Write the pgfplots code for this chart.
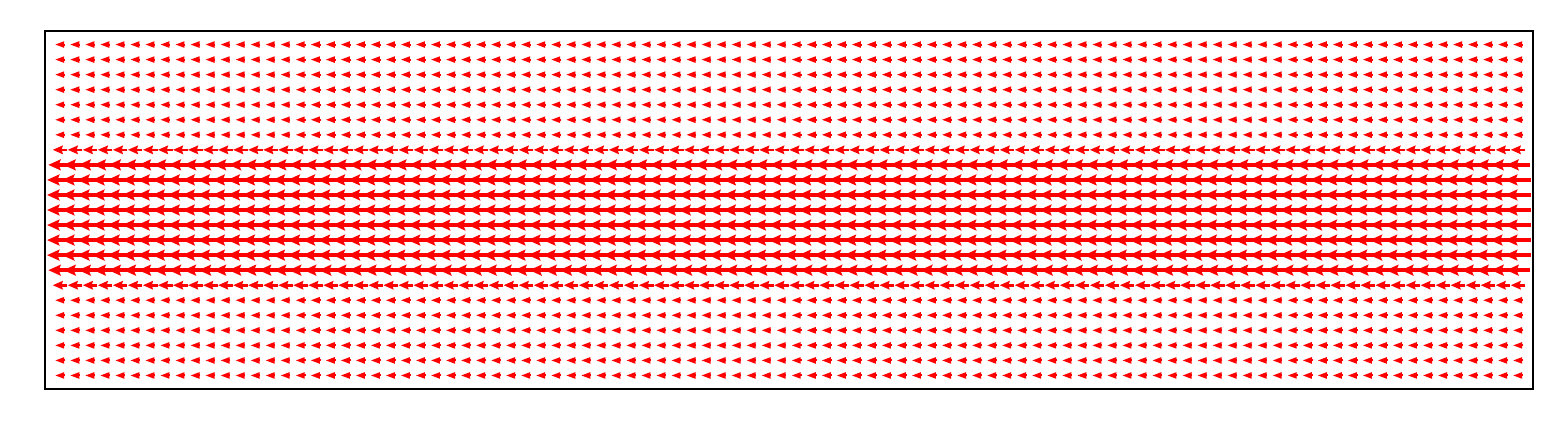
\documentclass[border=0pt]{standalone}
\usepackage{pgfplots}
\usepackage{pgfplotstable}
\pgfplotsset{compat=1.18}
\usetikzlibrary{arrows.meta}

% column centres of the grid
\pgfplotstableread{
x y
1 0
2 0
3 0
4 0
5 0
6 0
7 0
8 0
9 0
10 0
11 0
12 0
13 0
14 0
15 0
16 0
17 0
18 0
19 0
20 0
21 0
22 0
23 0
24 0
25 0
26 0
27 0
28 0
29 0
30 0
31 0
32 0
33 0
34 0
35 0
36 0
37 0
38 0
39 0
40 0
41 0
42 0
43 0
44 0
45 0
46 0
47 0
48 0
49 0
50 0
51 0
52 0
53 0
54 0
55 0
56 0
57 0
58 0
59 0
60 0
61 0
62 0
63 0
64 0
65 0
66 0
67 0
68 0
69 0
70 0
71 0
72 0
73 0
74 0
75 0
76 0
77 0
78 0
79 0
80 0
81 0
82 0
83 0
84 0
85 0
86 0
87 0
88 0
89 0
90 0
91 0
92 0
93 0
94 0
95 0
96 0
97 0
98 0
}\xgrid

\tikzset{
  qsmall/.style={red, line width=1pt, -{Stealth[length=4.6pt,width=3pt,inset=0pt]}},
  qmed/.style={red, line width=1.3pt, -{Stealth[length=5pt,width=4.2pt,inset=0.6pt]}},
  qlarge/.style={red, line width=2pt, -{Stealth[length=6.2pt,width=5.4pt,inset=1pt]}},
}

% one row of arrows: y position, length (pointing left), style
\newcommand{\qrow}[3]{%
  \addplot[#3, quiver={u=-#2, v=0}]
    table[x expr=\thisrow{x}+#2/2, y expr=\thisrow{y}+#1] {\xgrid};
}

\begin{document}
\begin{tikzpicture}
\path[use as bounding box, fill=white] (0,0) rectangle (781pt,217.5pt);
\begin{axis}[
  at={(22.5pt,23pt)}, anchor=south west,
  scale only axis, width=744pt, height=179pt,
  xmin=0, xmax=99, ymin=0.1, ymax=23.9,
  xtick=\empty, ytick=\empty,
  axis line style={black, line width=1.1pt},
  clip=true,
]
\qrow{1}{0.665}{qsmall}
\qrow{2}{0.665}{qsmall}
\qrow{3}{0.665}{qsmall}
\qrow{4}{0.665}{qsmall}
\qrow{5}{0.665}{qsmall}
\qrow{6}{0.665}{qsmall}
\qrow{7}{0.97}{qmed}
\qrow{8}{1.56}{qlarge}
\qrow{9}{1.73}{qlarge}
\qrow{10}{1.73}{qlarge}
\qrow{11}{1.73}{qlarge}
\qrow{12}{1.73}{qlarge}
\qrow{13}{1.73}{qlarge}
\qrow{14}{1.73}{qlarge}
\qrow{15}{1.56}{qlarge}
\qrow{16}{0.97}{qmed}
\qrow{17}{0.665}{qsmall}
\qrow{18}{0.665}{qsmall}
\qrow{19}{0.665}{qsmall}
\qrow{20}{0.665}{qsmall}
\qrow{21}{0.665}{qsmall}
\qrow{22}{0.665}{qsmall}
\qrow{23}{0.665}{qsmall}
\end{axis}
\end{tikzpicture}
\end{document}
